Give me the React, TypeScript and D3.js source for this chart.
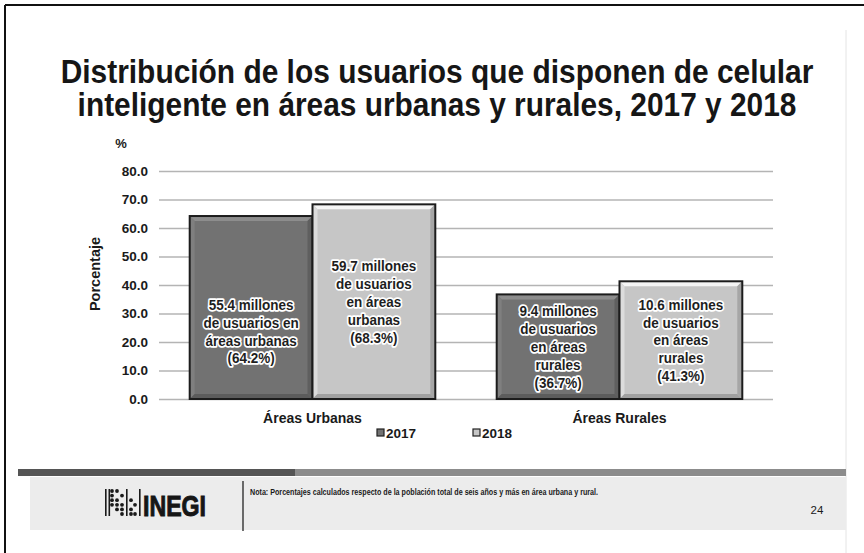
import React, { useEffect, useRef } from 'react';
import * as d3 from 'd3';

const categories = ['Áreas Urbanas', 'Áreas Rurales'];
const years = ['2017', '2018'];
const values2017 = [64.2, 36.7];
const values2018 = [68.3, 41.3];
const labels2017 = [
  ['55.4 millones', 'de usuarios en', 'áreas urbanas', '(64.2%)'],
  ['9.4 millones', 'de usuarios', 'en áreas', 'rurales', '(36.7%)'],
];
const labels2018 = [
  ['59.7 millones', 'de usuarios', 'en áreas', 'urbanas', '(68.3%)'],
  ['10.6 millones', 'de usuarios', 'en áreas', 'rurales', '(41.3%)'],
];
const yTicks = [0, 10, 20, 30, 40, 50, 60, 70, 80];
const titleLines = [
  'Distribución de los usuarios que disponen de celular',
  'inteligente en áreas urbanas y rurales, 2017 y 2018',
];
const nota = 'Nota: Porcentajes calculados respecto de la población total de seis años y más en área urbana y rural.';
const pageNumber = '24';

const App = () => {
  const svgRef = useRef(null);

  useEffect(() => {
    document.body.style.margin = '0';
    const width = 864;
    const height = 553;
    const font = '"Liberation Sans", Arial, sans-serif';

    d3.select(svgRef.current).selectAll('*').remove();
    const svg = d3.select(svgRef.current)
      .attr('width', width)
      .attr('height', height)
      .style('display', 'block')
      .style('background', '#fff');

    // marco de la diapositiva
    svg.append('line').attr('x1', 5).attr('x2', width).attr('y1', 5).attr('y2', 5)
      .attr('stroke', '#111').attr('stroke-width', 2);
    svg.append('line').attr('x1', 5).attr('x2', 5).attr('y1', 5).attr('y2', height)
      .attr('stroke', '#111').attr('stroke-width', 2);
    svg.append('line').attr('x1', 846).attr('x2', 846).attr('y1', 30).attr('y2', height)
      .attr('stroke', '#e4e4e4').attr('stroke-width', 1);

    // titulo (letra algo condensada, como en la lamina)
    const titleWidths = [753, 719];
    titleLines.forEach((t, i) => {
      const tt = svg.append('text')
        .attr('text-anchor', 'middle')
        .attr('font-family', font).attr('font-weight', 'bold')
        .attr('font-size', 32.5).attr('fill', '#161616')
        .text(t);
      const natural = tt.node().getComputedTextLength() || titleWidths[i];
      const sx = titleWidths[i] / natural;
      tt.attr('transform', `translate(437,${83 + i * 33}) scale(${sx},1)`);
    });

    const margin = { top: 171, left: 159, right: 773, bottom: 399 };

    const x0 = d3.scaleBand()
      .domain(categories)
      .range([margin.left, margin.right])
      .paddingInner(0.2)
      .paddingOuter(0.1);
    const x1 = d3.scaleBand().domain(years).range([0, x0.bandwidth()]);
    const y = d3.scaleLinear().domain([0, 80]).range([margin.bottom, margin.top]);
    const fill = d3.scaleOrdinal().domain(years).range(['#727272', '#c6c6c6']);

    // eje y con lineas de cuadricula
    const yAxis = d3.axisLeft(y)
      .tickValues(yTicks)
      .tickFormat(d3.format('.1f'))
      .tickSize(-(margin.right - margin.left))
      .tickPadding(11);
    const gy = svg.append('g')
      .attr('transform', `translate(${margin.left},0)`)
      .call(yAxis);
    gy.select('.domain').remove();
    gy.selectAll('.tick line').attr('stroke', '#b4b4b4').attr('stroke-width', 1.6);
    gy.selectAll('.tick text')
      .attr('font-family', font).attr('font-weight', 'bold')
      .attr('font-size', 13.5).attr('fill', '#1a1a1a');

    svg.append('text')
      .attr('x', 121).attr('y', 148)
      .attr('text-anchor', 'middle')
      .attr('font-family', font).attr('font-weight', 'bold').attr('font-size', 13)
      .attr('fill', '#1a1a1a').text('%');

    svg.append('text')
      .attr('transform', 'translate(100,274) rotate(-90)')
      .attr('text-anchor', 'middle')
      .attr('font-family', font).attr('font-weight', 'bold').attr('font-size', 14.5)
      .attr('fill', '#1a1a1a').text('Porcentaje');

    const series = [values2017, values2018];
    const seriesLabels = [labels2017, labels2018];
    // desplazamiento vertical del bloque de texto en cada barra
    const labelShift = [[24, 0], [0, 0]];

    categories.forEach((cat, ci) => {
      years.forEach((yr, si) => {
        const v = series[si][ci];
        const bx = x0(cat) + x1(yr);
        const bw = x1.bandwidth();
        const by = y(v);
        const bh = y(0) - by;
        const base = d3.color(fill(yr));
        const g = svg.append('g');
        g.append('rect')
          .attr('x', bx).attr('y', by).attr('width', bw).attr('height', bh)
          .attr('fill', base.formatHex());
        const b = 5;
        const L = bx, R = bx + bw, T = by, B = by + bh;
        const bevel = [
          { pts: [[L, T], [R, T], [R - b, T + b], [L + b, T + b]], c: base.brighter(0.6) },
          { pts: [[L, T], [L + b, T + b], [L + b, B - b], [L, B]], c: base.brighter(0.3) },
          { pts: [[R, T], [R, B], [R - b, B - b], [R - b, T + b]], c: base.darker(0.5) },
          { pts: [[L, B], [L + b, B - b], [R - b, B - b], [R, B]], c: base.darker(0.6) },
        ];
        bevel.forEach(p => {
          g.append('polygon')
            .attr('points', p.pts.map(q => q.join(',')).join(' '))
            .attr('fill', p.c.formatHex());
        });
        g.append('rect')
          .attr('x', bx).attr('y', by).attr('width', bw).attr('height', bh)
          .attr('fill', 'none').attr('stroke', '#1c1c1c').attr('stroke-width', 2);

        const lines = seriesLabels[si][ci];
        const lh = 17.8;
        const cy = by + bh / 2 + labelShift[ci][si];
        const top = cy - ((lines.length - 1) * lh) / 2;
        lines.forEach((ln, li) => {
          g.append('text')
            .attr('transform', `translate(${bx + bw / 2},${top + li * lh}) scale(0.9,1)`)
            .attr('dy', '0.35em')
            .attr('text-anchor', 'middle')
            .attr('font-family', font).attr('font-weight', 'bold').attr('font-size', 15)
            .attr('fill', '#1e1e1e')
            .attr('stroke', '#ffffff').attr('stroke-width', 3.5)
            .attr('stroke-linejoin', 'round')
            .attr('paint-order', 'stroke')
            .text(ln);
        });
      });

      svg.append('text')
        .attr('x', x0(cat) + x0.bandwidth() / 2)
        .attr('y', 423)
        .attr('text-anchor', 'middle')
        .attr('font-family', font).attr('font-weight', 'bold').attr('font-size', 14)
        .attr('fill', '#1a1a1a').text(cat);
    });

    // leyenda
    const legendX = [377, 473];
    years.forEach((yr, i) => {
      svg.append('rect')
        .attr('x', legendX[i]).attr('y', 429).attr('width', 7).attr('height', 7)
        .attr('fill', fill(yr)).attr('stroke', '#222').attr('stroke-width', 1.2);
      svg.append('text')
        .attr('x', legendX[i] + 9).attr('y', 438)
        .attr('font-family', font).attr('font-weight', 'bold').attr('font-size', 13.5)
        .attr('fill', '#1a1a1a').text(yr);
    });

    // pie de pagina
    svg.append('rect').attr('x', 18).attr('y', 469).attr('width', 828).attr('height', 7)
      .attr('fill', '#8c8c8c');
    svg.append('rect').attr('x', 18).attr('y', 469).attr('width', 277).attr('height', 7)
      .attr('fill', '#555');
    svg.append('rect').attr('x', 30).attr('y', 477).attr('width', 816).attr('height', 53)
      .attr('fill', '#ececec');

    // logo INEGI
    const logo = svg.append('g');
    [105, 108.5, 126, 139].forEach(lx => {
      logo.append('rect').attr('x', lx).attr('y', 489).attr('width', 1.6).attr('height', 27)
        .attr('fill', '#1a1a1a');
    });
    const dotCols = [[112, [0, 1, 2, 3]], [117, [0, 2, 3, 4]], [122, [1, 3, 4, 5]], [131, [2, 4, 5]], [135, [3, 5]]];
    dotCols.forEach(([dx, rows]) => {
      rows.forEach(r => {
        logo.append('circle').attr('cx', dx).attr('cy', 491 + r * 4.6).attr('r', 1.9)
          .attr('fill', '#1a1a1a');
      });
    });
    logo.append('text')
      .attr('x', 143).attr('y', 516)
      .attr('font-family', font).attr('font-weight', 'bold').attr('font-size', 30)
      .attr('textLength', 63).attr('lengthAdjust', 'spacingAndGlyphs')
      .attr('fill', '#161616').attr('stroke', '#161616').attr('stroke-width', 1)
      .text('INEGI');

    svg.append('line').attr('x1', 243).attr('x2', 243).attr('y1', 481).attr('y2', 531)
      .attr('stroke', '#333').attr('stroke-width', 1.4);

    svg.append('text')
      .attr('x', 250).attr('y', 495)
      .attr('font-family', font).attr('font-weight', 'bold').attr('font-size', 9)
      .attr('textLength', 348).attr('lengthAdjust', 'spacingAndGlyphs')
      .attr('fill', '#1a1a1a').text(nota);

    svg.append('text')
      .attr('x', 817).attr('y', 514)
      .attr('text-anchor', 'middle')
      .attr('font-family', font).attr('font-size', 11.5)
      .attr('fill', '#1a1a1a').text(pageNumber);
  }, []);

  return <svg ref={svgRef}></svg>;
};

export default App;
